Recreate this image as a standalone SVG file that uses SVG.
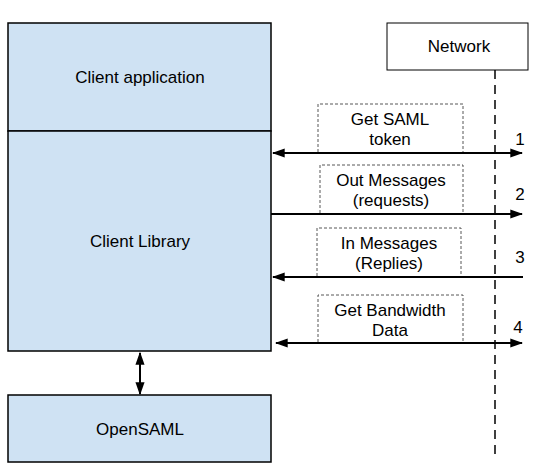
<svg xmlns="http://www.w3.org/2000/svg" width="537" height="472" viewBox="0 0 537 472">
<defs>
<style>
.box{fill:#cfe2f3;stroke:#000;stroke-width:1.5}
.net{fill:#fff;stroke:#000;stroke-width:1}
.lbl{fill:none;stroke:#444;stroke-width:0.9;stroke-dasharray:3,2}
.t{font-family:"Liberation Sans",Arial,sans-serif;font-size:17px;fill:#000;text-anchor:middle}
.c{stroke:#000;stroke-width:2;fill:none}
</style>
<marker id="ah" viewBox="0 0 10 10" refX="9" refY="5" markerWidth="6.5" markerHeight="6.5" orient="auto-start-reverse"><path d="M0,1.5 L10,5 L0,8.5 z" fill="#000"/></marker>
</defs>
<g id="client-app"><rect class="box" x="8" y="23" width="263" height="108"/><text class="t" x="140" y="83">Client application</text></g>
<g id="client-lib"><rect class="box" x="8" y="131" width="263" height="220"/><text class="t" x="140" y="247">Client Library</text></g>
<g id="opensaml"><rect class="box" x="8" y="395" width="263" height="67"/><text class="t" x="140" y="435">OpenSAML</text></g>
<g id="network"><rect class="net" x="387" y="23" width="141" height="47"/><text class="t" x="459" y="52">Network</text></g>
<g id="connectors">
<line x1="495" y1="70" x2="495" y2="456" stroke="#000" stroke-width="1.5" stroke-dasharray="9,6"/>
<line class="c" x1="140" y1="353" x2="140" y2="394" marker-start="url(#ah)" marker-end="url(#ah)"/>
<line class="c" x1="273" y1="153" x2="522" y2="153" marker-start="url(#ah)" marker-end="url(#ah)"/>
<line class="c" x1="271" y1="214" x2="522" y2="214" marker-end="url(#ah)"/>
<line class="c" x1="523" y1="277" x2="273" y2="277" marker-end="url(#ah)"/>
<line class="c" x1="276" y1="343" x2="522" y2="343" marker-start="url(#ah)" marker-end="url(#ah)"/>
</g>
<g id="label1"><path class="lbl" d="M318,152 V104 H463 V152"/><text class="t" x="390" y="125">Get SAML</text><text class="t" x="390" y="145">token</text><text class="t" x="520" y="145">1</text></g>
<g id="label2"><path class="lbl" d="M320,213 V165 H463 V213"/><text class="t" x="391" y="186">Out Messages</text><text class="t" x="391" y="206">(requests)</text><text class="t" x="520" y="200">2</text></g>
<g id="label3"><path class="lbl" d="M317,276 V228 H461 V276"/><text class="t" x="389" y="249">In Messages</text><text class="t" x="389" y="269">(Replies)</text><text class="t" x="520" y="263">3</text></g>
<g id="label4"><path class="lbl" d="M318,342 V295 H463 V342"/><text class="t" x="390" y="316">Get Bandwidth</text><text class="t" x="390" y="336">Data</text><text class="t" x="518" y="333">4</text></g>
</svg>
